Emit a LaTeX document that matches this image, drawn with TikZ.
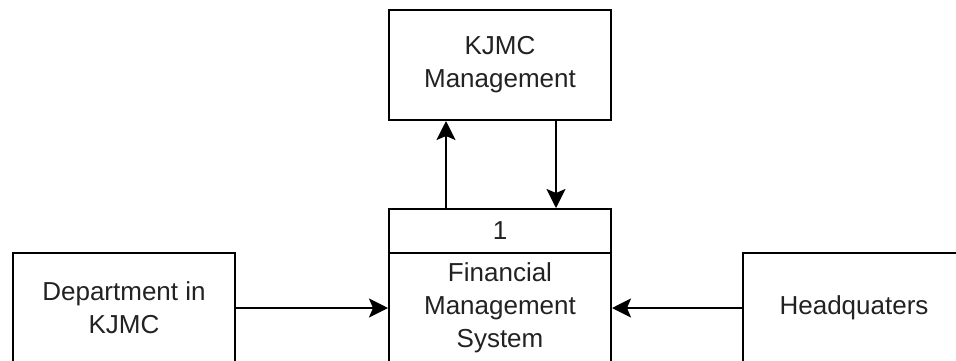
\documentclass[tikz,border=0pt]{standalone}
\usepackage{fontspec}
\setmainfont{Liberation Sans}
\usetikzlibrary{arrows.meta}
\definecolor{txt}{HTML}{222222}
\tikzset{
  box/.style={draw=black, line width=2pt, fill=white, rectangle, minimum width=222pt,
    align=center, inner sep=0pt, text=txt, font=\fontsize{26}{33}\selectfont},
  arr/.style={draw=black, line width=2pt, -{Stealth[length=19pt, width=19pt, inset=4pt]}}
}
\begin{document}
\begin{tikzpicture}[x=1pt, y=-1pt]
\useasboundingbox (0,0) rectangle (956,360);
\clip (0,0) rectangle (956,360);
\fill[white] (0,0) rectangle (956,360);
\node[box, minimum height=110pt] (mgmt) at (500,65) {KJMC\\Management};
\node[box, minimum height=44pt] (num) at (500,231) {1};
\node[box, minimum height=110pt] (fms) at (500,308) {Financial\\Management\\System};
\node[box, minimum height=110pt] (dept) at (124,308) {Department in\\KJMC};
\node[box, minimum height=110pt] (hq) at (854,308) {Headquaters};
\draw[arr] (dept) -- (fms);
\draw[arr] (hq) -- (fms);
\draw[arr] ([xshift=-54pt]num.north) -- ([xshift=-54pt]mgmt.south);
\draw[arr] ([xshift=56pt]mgmt.south) -- ([xshift=56pt]num.north);
\end{tikzpicture}
\end{document}
